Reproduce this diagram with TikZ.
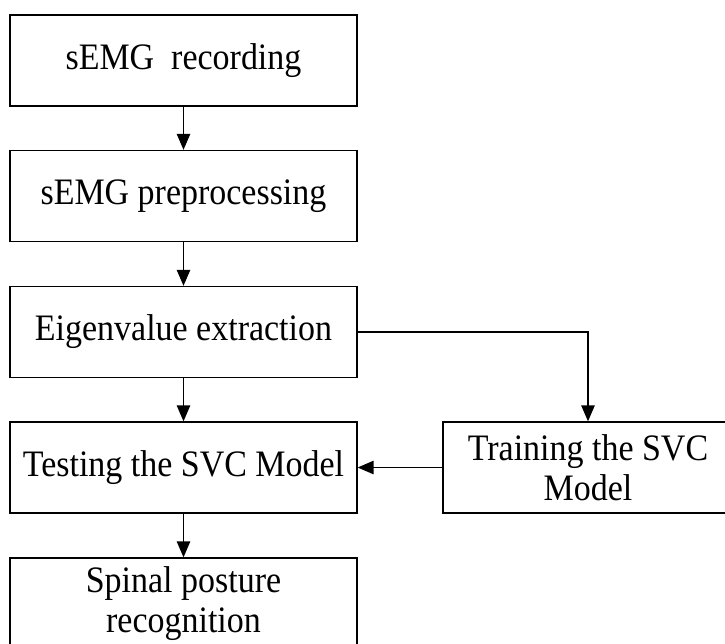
\documentclass[tikz,border=0pt]{standalone}
\usepackage{fontspec}
\setmainfont{Liberation Serif}[FakeStretch=0.91]
\usetikzlibrary{arrows.meta}

\tikzset{
  stepbox/.style={draw, line width=1.2pt, minimum width=260pt, minimum height=68pt,
    align=center, inner sep=0pt, font=\fontsize{28}{30}\selectfont},
  arr/.style={line width=1.2pt, -{Triangle[length=12pt,width=10pt]}}
}

\begin{document}
\begin{tikzpicture}[x=0.75pt, y=-0.75pt]
      \useasboundingbox (0,0) rectangle (725,643);
      \clip (0,0) rectangle (725,643);

      \node[stepbox] (n1)  at  (183.5, 60.5){sEMG\ \ recording};
      \node[stepbox] (n2)  at  (183.5, 196){sEMG preprocessing};
      \node[stepbox] (n3)  at  (183.5, 332){Eigenvalue extraction};
      \node[stepbox] (n4)  at  (183.5, 467.5){Testing the SVC Model};
      \node[stepbox] (n5)  at  (183.5, 603.5){Spinal posture\\recognition};

      \node[stepbox, minimum width=217.5pt] (t1)  at  (588, 467.5){Training the SVC\\Model};

      \draw[arr] (n1) -- (n2);
      \draw[arr] (n2) -- (n3);
      \draw[arr] (n3) -- (n4);
      \draw[arr] (n4) -- (n5);
      \draw[arr] (n3.east) -| (t1.north);
      \draw[arr] (t1.west) -- (n4.east);
\end{tikzpicture}
\end{document}
